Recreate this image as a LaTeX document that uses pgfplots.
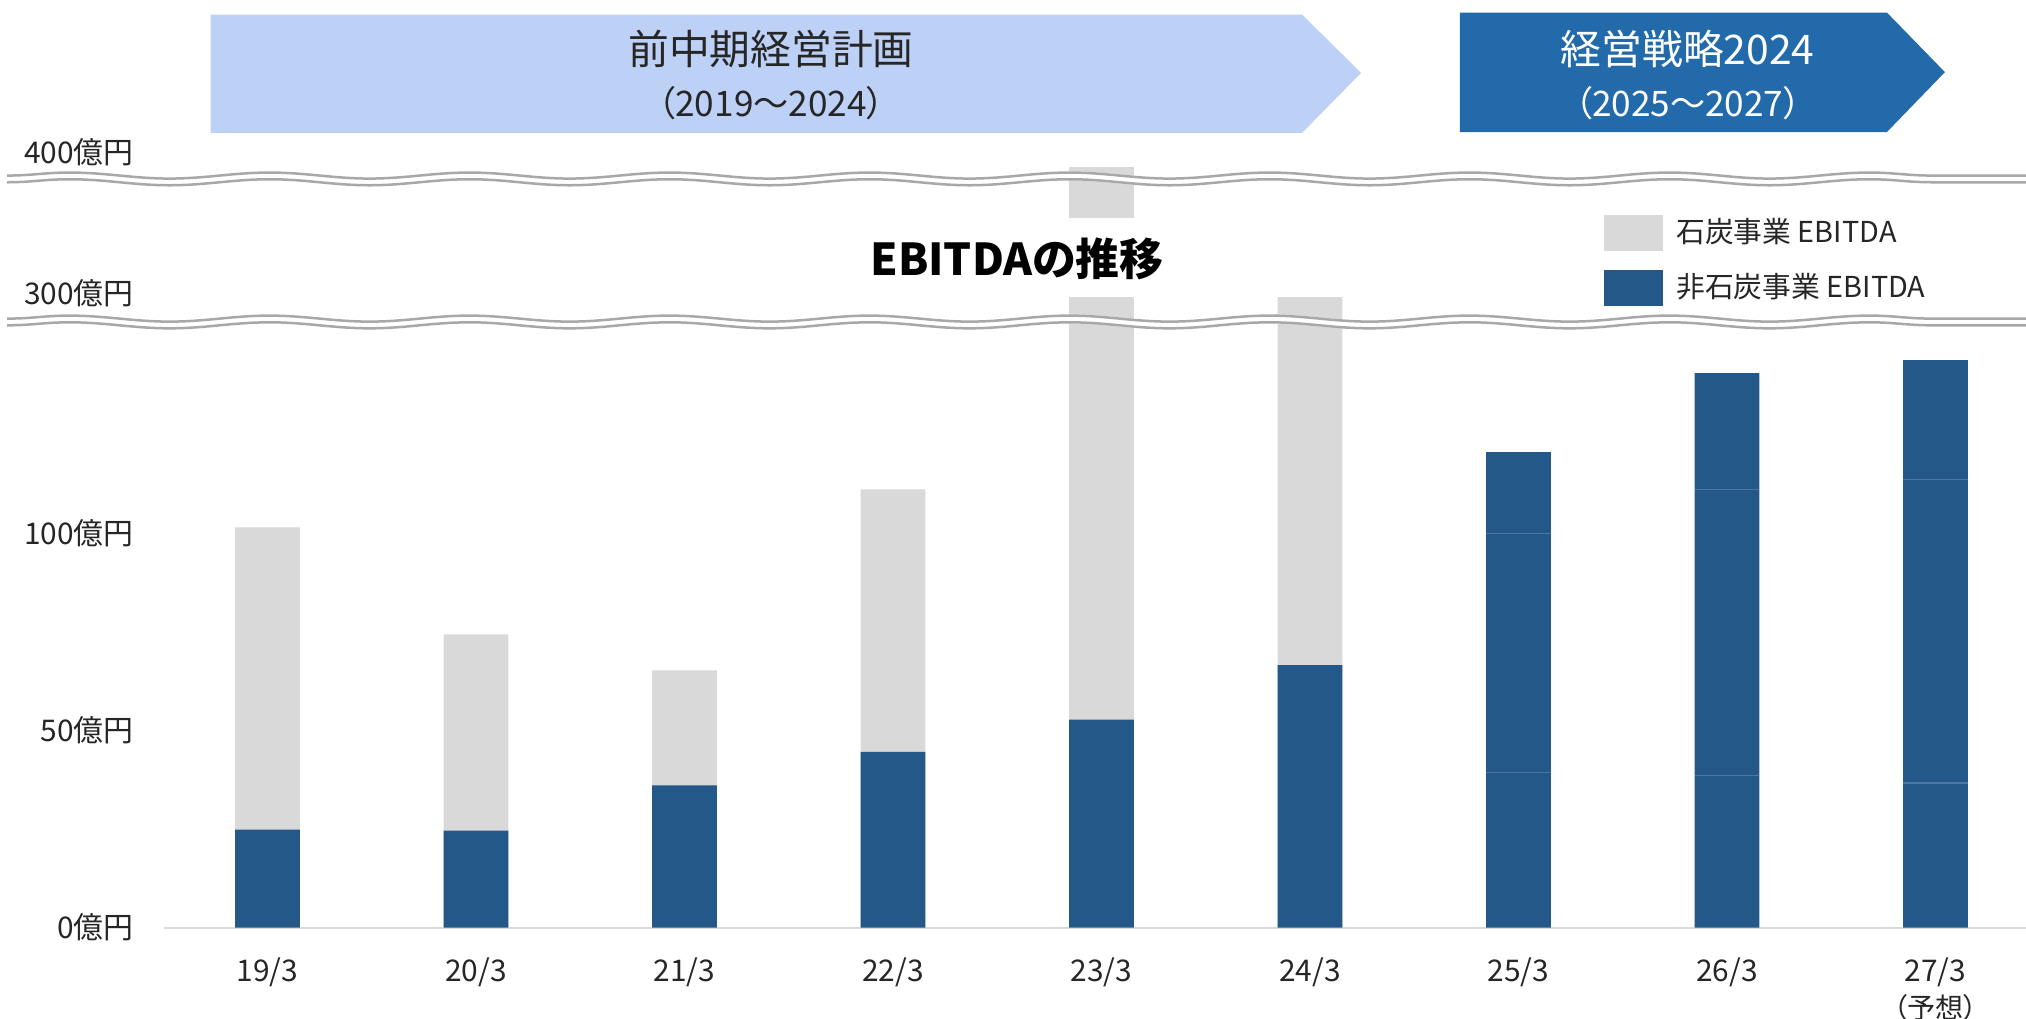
\documentclass[border=0pt]{standalone}
\usepackage{fontspec}
\setmainfont{Noto Sans CJK JP}[RawFeature=+palt]
\usepackage{pgfplots}
\pgfplotsset{compat=1.18}
\usetikzlibrary{decorations.pathmorphing}
\definecolor{barblue}{HTML}{245889}
\definecolor{bargrey}{HTML}{D9D9D9}
\definecolor{banlight}{HTML}{BDD0F5}
\definecolor{bandark}{HTML}{236AAB}
\definecolor{seam}{HTML}{4A78A6}
\definecolor{wavegrey}{HTML}{A8A8A8}
\definecolor{txt}{HTML}{262626}
\begin{document}
\begin{tikzpicture}
\begin{axis}[
  name=ax,
  scale only axis, width=202.6mm, height=101.9mm,
  xmin=-1.283, xmax=8.434, ymin=-23.17, ymax=235.4,
  clip=false,
  axis line style={draw=none}, tick style={draw=none},
  ybar, bar width=0.31, /pgf/bar shift=0pt,
  xtick={0,...,8},
  xticklabels={19/3,20/3,21/3,22/3,23/3,24/3,25/3,26/3,27/3},
  xticklabel style={anchor=center, yshift=6.15mm, inner sep=0pt, font=\fontsize{8.5}{10}\selectfont, text=txt},
  ytick={0,50,100,161,196.9},
  yticklabels={0億円,50億円,100億円,300億円,400億円},
  yticklabel style={anchor=east, xshift=13.44mm, inner sep=0pt, font=\fontsize{8.5}{10}\selectfont, text=txt},
  legend cell align=left,
  legend style={at={(axis cs:6.405,182.0)}, anchor=north west, draw=none, fill=none, inner sep=0pt, row sep=1.2mm, font=\fontsize{8.2}{10}\selectfont, text=txt},
  legend image code/.code={\fill[#1,draw=none] (0mm,-1.8mm) rectangle (5.9mm,1.8mm); \path (6.55mm,0mm);},
]
% baseline
\draw[bargrey, line width=0.2mm] (axis cs:-0.496,0) -- (axis cs:8.434,0);
% 23/3 upper segment above the break, and the white gap
\addplot[forget plot, fill=bargrey, draw=none] coordinates {(4,193.1)};
\addplot[forget plot, fill=white, draw=none] coordinates {(4,180.2)};
% coal business EBITDA (cumulative top)
\addplot[fill=bargrey, draw=none] coordinates {(0,101.6) (1,74.4) (2,65.3) (3,111.2) (4,160.0) (5,160.0)};
\addlegendentry{石炭事業 EBITDA}
% non-coal business EBITDA
\addplot[fill=barblue, draw=none] coordinates {(0,24.9) (1,24.6) (2,36.1) (3,44.6) (4,52.8) (5,66.6) (6,120.7) (7,140.7) (8,144.0)};
\addlegendentry{非石炭事業 EBITDA}
% seams in the later bars
\addplot[forget plot, only marks, mark=-, mark size=3.23mm, mark options={draw=seam, line width=0.12mm}] coordinates {(6,39.3) (6,100.0) (7,38.7) (7,111.2) (8,36.7) (8,113.8)};
% axis breaks
\draw[white, line width=0.9mm, decorate, decoration={snake, amplitude=0.3mm, segment length=20mm}] (axis cs:-1.249,190.0) -- (axis cs:8.434,190.0);
\draw[wavegrey, line width=0.25mm, decorate, decoration={snake, amplitude=0.3mm, segment length=20mm}] (axis cs:-1.249,190.85) -- (axis cs:8.434,190.85);
\draw[wavegrey, line width=0.25mm, decorate, decoration={snake, amplitude=0.3mm, segment length=20mm}] (axis cs:-1.249,189.15) -- (axis cs:8.434,189.15);
\draw[white, line width=0.9mm, decorate, decoration={snake, amplitude=0.3mm, segment length=20mm}] (axis cs:-1.249,153.7) -- (axis cs:8.434,153.7);
\draw[wavegrey, line width=0.25mm, decorate, decoration={snake, amplitude=0.3mm, segment length=20mm}] (axis cs:-1.249,154.55) -- (axis cs:8.434,154.55);
\draw[wavegrey, line width=0.25mm, decorate, decoration={snake, amplitude=0.3mm, segment length=20mm}] (axis cs:-1.249,152.85) -- (axis cs:8.434,152.85);
% banners
\fill[banlight] (axis cs:-0.273,231.7) -- (axis cs:4.962,231.7) -- (axis cs:5.245,216.9) -- (axis cs:4.962,201.7) -- (axis cs:-0.273,201.7) -- cycle;
\fill[bandark] (axis cs:5.719,232.2) -- (axis cs:7.767,232.2) -- (axis cs:8.045,217.1) -- (axis cs:7.767,201.9) -- (axis cs:5.719,201.9) -- cycle;
\node[font=\fontsize{11.6}{13}\selectfont, text=txt] at (axis cs:2.415,223.0) {前中期経営計画};
\node[font=\fontsize{10}{12}\selectfont, text=txt] at (axis cs:2.415,209.3) {（2019～2024）};
\node[font=\fontsize{11.6}{13}\selectfont, text=white] at (axis cs:6.811,223.0) {経営戦略2024};
\node[font=\fontsize{10}{12}\selectfont, text=white] at (axis cs:6.811,209.3) {（2025～2027）};
% title
\node[font=\bfseries\fontsize{12.5}{14}\selectfont, text=black] at (axis cs:3.595,169.8) {EBITDAの推移};
% forecast note
\node[font=\fontsize{8}{9}\selectfont, text=txt] at (axis cs:8,-20.3) {（予想）};
\end{axis}
\pgfresetboundingbox
\path[use as bounding box] (ax.south west) rectangle (ax.north east);
\end{tikzpicture}
\end{document}
